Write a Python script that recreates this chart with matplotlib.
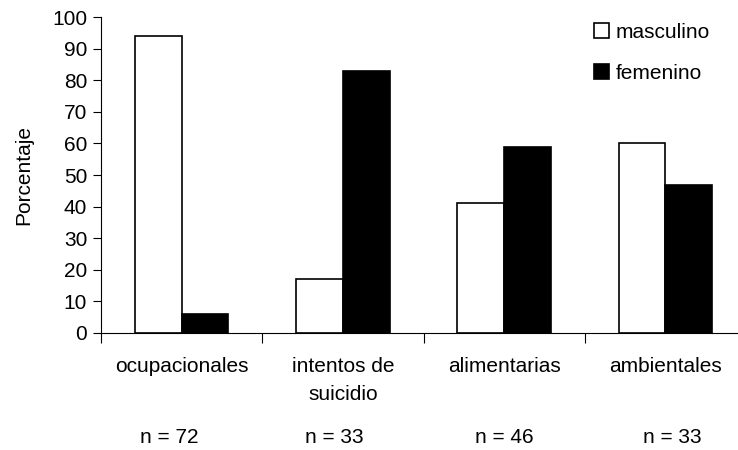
import matplotlib.pyplot as plt
import numpy as np

plt.rcParams['font.family'] = ['Liberation Sans', 'DejaVu Sans']

categorias = ['ocupacionales', 'intentos de\nsuicidio', 'alimentarias', 'ambientales']
masculino = [94, 17, 41, 60]
femenino = [6, 83, 59, 47]
n_labels = ['n = 72', 'n = 33', 'n = 46', 'n = 33']
n_shift = [-0.08, -0.055, 0.0, 0.045]

FS = 15

fig = plt.figure(figsize=(7.38, 4.5), dpi=100)
ax = fig.add_axes([0.1369, 0.26, 0.874, 0.702])

x = np.arange(len(categorias))
w = 0.29
ax.bar(x - w/2, masculino, w, color='white', edgecolor='black', linewidth=1.2, label='masculino')
ax.bar(x + w/2, femenino, w, color='black', edgecolor='black', linewidth=1.2, label='femenino')

ax.set_xlim(-0.5, 3.5)
ax.set_ylim(0, 100)
ax.set_yticks(range(0, 101, 10))
ax.tick_params(axis='y', labelsize=FS, length=6, width=0.8, direction='out', pad=4)
ax.set_xticks(np.arange(-0.5, 3.6, 1.0))
ax.set_xticklabels([])
ax.tick_params(axis='x', length=7, width=0.8, direction='out')
for s in ['top', 'right']:
    ax.spines[s].set_visible(False)
ax.spines['left'].set_linewidth(0.8)
ax.spines['bottom'].set_linewidth(0.8)

# category names and sample sizes under the axis (baselines in axes fraction)
tr = ax.get_xaxis_transform()
for i, lab in enumerate(categorias):
    for j, line in enumerate(lab.split('\n')):
        ax.text(x[i], -0.1234 - j*0.0886, line, transform=tr, ha='center', va='baseline', fontsize=FS)
    ax.text(x[i] + n_shift[i], -0.348, n_labels[i], transform=tr, ha='center', va='baseline', fontsize=FS)

ax.set_ylabel('Porcentaje', fontsize=FS)
ax.yaxis.set_label_coords(-0.105, 0.5)

ax.legend(loc='upper left', bbox_to_anchor=(594/738, 1 - 23/450), bbox_transform=fig.transFigure,
          frameon=False, fontsize=FS, handlelength=0.7, handleheight=0.7, handletextpad=0.33,
          labelspacing=1.05, borderpad=0, borderaxespad=0)

fig.savefig('out.png', dpi=100)
